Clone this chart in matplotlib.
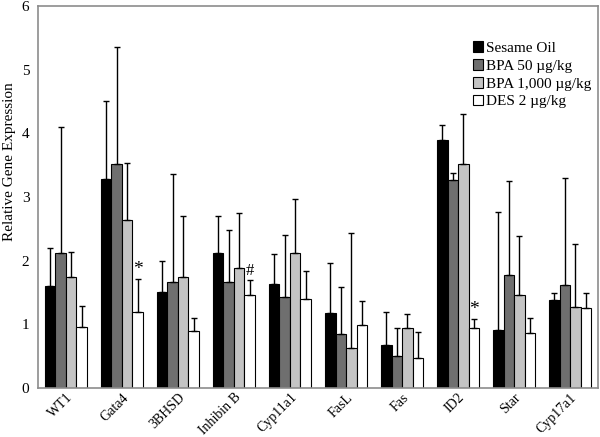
import matplotlib
matplotlib.use("Agg")
import matplotlib.pyplot as plt
import numpy as np

plt.rcParams['font.family'] = ['Liberation Serif', 'DejaVu Serif']

genes = ["WT1", "Gata4", "3BHSD", "Inhibin B", "Cyp11a1", "FasL", "Fas", "ID2", "Star", "Cyp17a1"]
series = ["Sesame Oil", "BPA 50 \u00b5g/kg", "BPA 1,000 \u00b5g/kg", "DES 2 \u00b5g/kg"]

sesame = [1.60, 3.29, 1.51, 2.12, 1.64, 1.18, 0.68, 3.90, 0.91, 1.38]
bpa50 = [2.12, 3.52, 1.66, 1.66, 1.43, 0.85, 0.50, 3.27, 1.77, 1.62]
bpa1000 = [1.75, 2.64, 1.75, 1.88, 2.12, 0.63, 0.94, 3.52, 1.46, 1.27]
des2 = [0.96, 1.20, 0.90, 1.46, 1.40, 0.99, 0.47, 0.94, 0.86, 1.26]

sesame_top = [2.20, 4.51, 2.00, 2.70, 2.10, 1.96, 1.20, 4.14, 2.77, 1.49]
bpa50_top = [4.10, 5.36, 3.36, 2.49, 2.40, 1.59, 0.94, 3.38, 3.25, 3.30]
bpa1000_top = [2.14, 3.54, 2.70, 2.75, 2.97, 2.43, 1.16, 4.30, 2.39, 2.27]
des2_top = [1.29, 1.71, 1.10, 1.70, 1.84, 1.37, 0.88, 1.08, 1.10, 1.50]

annotations = {"Gata4": "*", "Inhibin B": "#", "ID2": "*"}

values = [sesame, bpa50, bpa1000, des2]
tops = [sesame_top, bpa50_top, bpa1000_top, des2_top]
colors = ["#000000", "#6f6f6f", "#c4c4c4", "#ffffff"]

fig = plt.figure(figsize=(6.0, 4.37), dpi=100)
ax = fig.add_axes([0.063, 0.112, 0.934, 0.874])

x = np.arange(len(genes))
w = 0.1875
for i, (vals, tp, c, lab) in enumerate(zip(values, tops, colors, series)):
    pos = x + (i - 1.5) * w
    vals = np.array(vals)
    err = np.array(tp) - vals
    ax.bar(pos, vals, w, color=c, edgecolor="black", linewidth=0.8, label=lab, zorder=2)
    ax.errorbar(pos, vals, yerr=[np.zeros_like(err), err], fmt="none",
                ecolor="black", elinewidth=1.0, capsize=2.5, capthick=1.0, zorder=3)

for g, sym in annotations.items():
    k = genes.index(g)
    fs = 14 if sym == "*" else 12
    ax.text(x[k] + 1.5 * w, des2_top[k] + 0.02, sym, ha="center", va="bottom", fontsize=fs)

ax.set_xlim(-0.5, len(genes) - 0.5)
ax.set_ylim(0, 6)
ax.set_yticks(range(0, 7))
ax.tick_params(axis="y", length=0, labelsize=11, pad=6)
ax.tick_params(axis="x", length=0, labelsize=10, pad=2)
ax.set_xticks(x)
ax.set_xticklabels(genes, rotation=45, ha="right", rotation_mode="anchor")
ax.set_ylabel("Relative Gene Expression", fontsize=11)
ax.yaxis.set_label_coords(-0.039, 0.594)
for s in ax.spines.values():
    s.set_color("#8c8c8c")
    s.set_linewidth(1.2)

leg = ax.legend(loc="upper left", bbox_to_anchor=(0.765, 0.925), frameon=False,
                fontsize=11, handlelength=0.7, handleheight=0.7, handletextpad=0.15,
                labelspacing=0.28, borderaxespad=0)

fig.savefig("out.png", dpi=100)
